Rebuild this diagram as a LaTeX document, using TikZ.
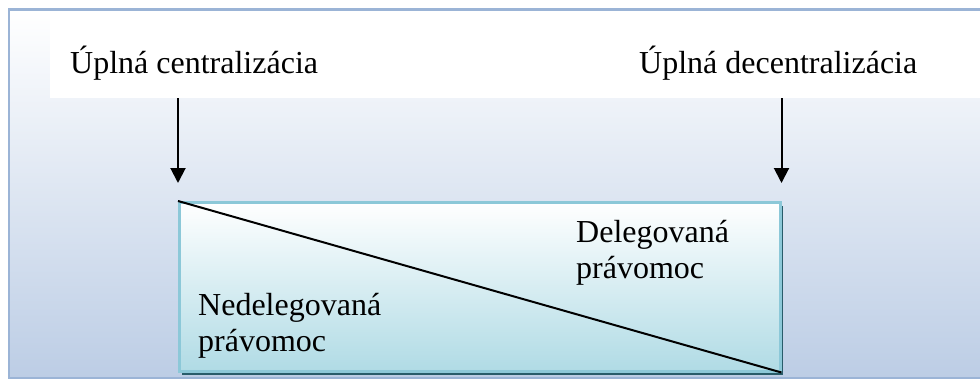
\documentclass[tikz,border=0pt]{standalone}
\usepackage{fontspec}
\setmainfont{Liberation Serif}
\usetikzlibrary{arrows.meta,shadows}

\definecolor{framecol}{RGB}{155,180,214}
\definecolor{bgbottom}{RGB}{188,205,229}
\definecolor{boxedge}{RGB}{140,200,216}
\definecolor{boxbottom}{RGB}{176,219,229}
\definecolor{shadowcol}{RGB}{40,92,106}

\begin{document}
\begin{tikzpicture}[x=1pt,y=-1pt,
  caption/.style={inner sep=0pt, anchor=base west,
    font=\fontsize{32}{36}\selectfont},
  pointer/.style={line width=2pt, -{Triangle[width=15pt,length=15pt]}},
  scalebox/.style={draw=boxedge, line width=2.5pt, inner sep=0pt,
    top color=white, bottom color=boxbottom,
    minimum width=601pt, minimum height=169pt, anchor=north west,
    drop shadow={shadow xshift=3pt, shadow yshift=-4pt,
      fill=shadowcol, opacity=1}}]
  \useasboundingbox (0,0) rectangle (980,380);
  \clip (0,0) rectangle (980,380);

  % panel background and frame
  \shade[top color=white, bottom color=bgbottom] (9,10) rectangle (990,378);
  \draw[framecol, line width=2.5pt] (9,9.5) rectangle (995,378);

  % white band behind the two headings
  \node[fill=white, inner sep=0pt, minimum width=940pt, minimum height=87pt,
        anchor=north west] (band) at (50,11) {};

  \node[caption] (cent) at (70,73) {Úplná centralizácia};
  \node[caption] (decent) at (639,73) {Úplná decentralizácia};

  % the delegation scale
  \node[scalebox] (box) at (178,201) {};
  \draw[line width=2pt] (box.north west) -- (box.south east);

  \node[caption] (undel) at (198,315)
    {\begin{tabular}[t]{@{}l@{}}Nedelegovaná\\právomoc\end{tabular}};
  \node[caption] (del) at (576,242)
    {\begin{tabular}[t]{@{}l@{}}Delegovaná\\právomoc\end{tabular}};

  % arrows pointing at both ends of the scale
  \draw[pointer] (band.south -| box.north west) -- ([yshift=18pt]box.north west);
  \draw[pointer] (band.south -| box.north east) -- ([yshift=18pt]box.north east);
\end{tikzpicture}
\end{document}
